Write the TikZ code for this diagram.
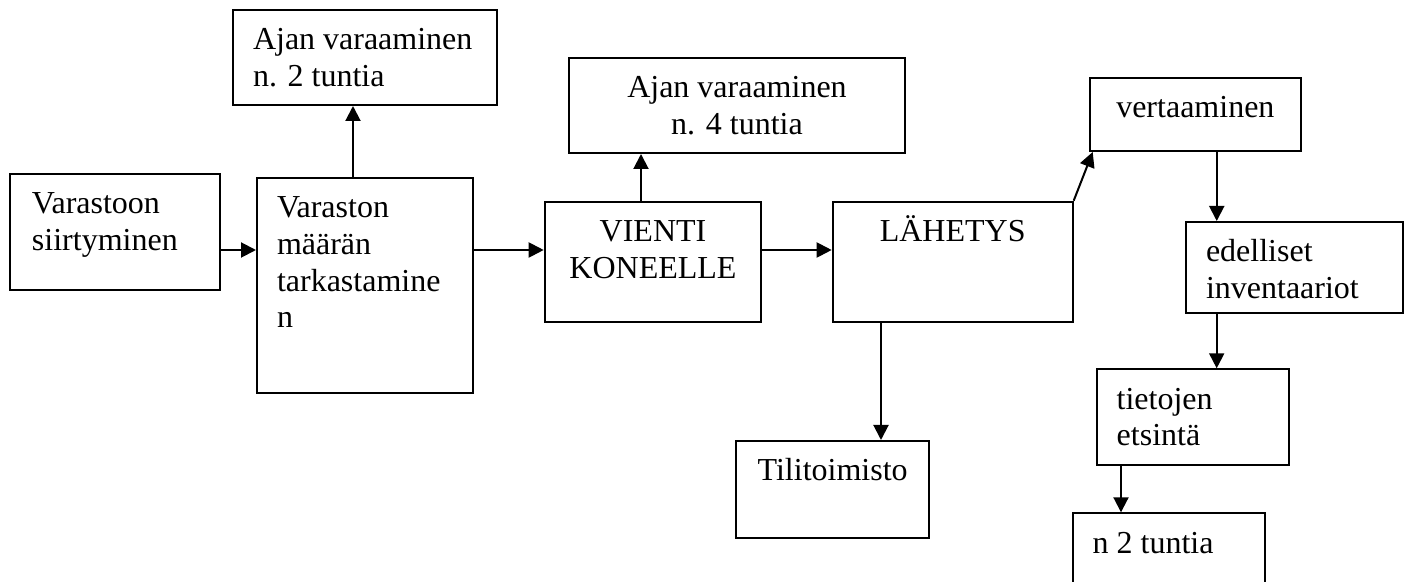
\documentclass[tikz,border=0pt]{standalone}
\usepackage{fontspec}
\setmainfont{Liberation Serif}
\usetikzlibrary{arrows.meta}
\pgfdeclarelayer{edgelayer}
\pgfdeclarelayer{nodelayer}
\pgfsetlayers{edgelayer,nodelayer,main}
\tikzstyle{block}=[draw=black,line width=1pt,inner sep=0pt,anchor=north west,font=\fontsize{16}{18.3}\selectfont]
\tikzstyle{flow}=[-{Triangle[length=7.5pt,width=7.5pt]},line width=1pt,draw=black]
\newcommand{\boxtext}[4]{\parbox[c][#2][t]{#1}{#3\rule{0pt}{20pt}#4}}
\newcommand{\txtleft}{\raggedright\leftskip=10pt\relax}
\newcommand{\txtmid}{\centering}

\begin{document}
\begin{tikzpicture}[x=0.5pt,y=-0.5pt]
	\useasboundingbox (0,0) rectangle (1410,582);
	\begin{pgfonlayer}{nodelayer}
		\node [style=block] (0) at (9,173) {\boxtext{105pt}{58pt}{\raggedright\leftskip=11pt\relax}{Varastoon\\siirtyminen}};
		\node [style=block] (1) at (256,177) {\boxtext{108pt}{107.5pt}{\txtleft}{Varaston\\määrän\\tarkastamine\\n}};
		\node [style=block] (2) at (232,9) {\boxtext{132pt}{47.5pt}{\txtleft}{Ajan varaaminen\\n. 2 tuntia}};
		\node [style=block] (3) at (543.7,200.7) {\boxtext{108.3pt}{60pt}{\txtmid}{VIENTI\\KONEELLE}};
		\node [style=block] (4) at (568,57) {\boxtext{168pt}{47.5pt}{\txtmid}{Ajan varaaminen\\n. 4 tuntia}};
		\node [style=block] (5) at (831.7,200.7) {\boxtext{120pt}{60pt}{\txtmid}{LÄHETYS}};
		\node [style=block] (6) at (735.3,440) {\boxtext{96.35pt}{48.35pt}{\txtmid}{Tilitoimisto}};
		\node [style=block] (7) at (1088.7,76.7) {\boxtext{105.65pt}{36.65pt}{\txtmid}{vertaaminen}};
		\node [style=block] (8) at (1185,221) {\boxtext{108.5pt}{45.35pt}{\txtleft}{edelliset\\inventaariot}};
		\node [style=block] (9) at (1095.7,368.3) {\boxtext{96.3pt}{48pt}{\txtleft}{tietojen\\etsintä}};
		\node [style=block] (10) at (1071.7,512.3) {\boxtext{96.15pt}{45pt}{\txtleft}{n 2 tuntia}};
	\end{pgfonlayer}
	\begin{pgfonlayer}{edgelayer}
		\draw [style=flow] ([yshift=-9pt]0.east) to ([yshift=-9pt]0.east -| 1.west);
		\draw [style=flow] ([yshift=17.75pt]1.east) to ([yshift=17.75pt]1.east -| 3.west);
		\draw [style=flow] ([yshift=5.85pt]3.east) to ([yshift=5.85pt]3.east -| 5.west);
		\draw [style=flow] ([xshift=-6pt]1.north) to ([xshift=-6pt]1.north |- 2.south);
		\draw [style=flow] ([xshift=-6pt]3.north) to ([xshift=-6pt]3.north |- 4.south);
		\draw [style=flow] (5.north east) to ([xshift=2pt]7.south west);
		\draw [style=flow] ([xshift=-35.85pt]5.south) to ([xshift=-35.85pt]5.south |- 6.north);
		\draw [style=flow] ([xshift=10.7pt]7.south) to ([xshift=10.7pt]7.south |- 8.north);
		\draw [style=flow] ([xshift=-38.9pt]8.south) to ([xshift=-38.9pt]8.south |- 9.north);
		\draw [style=flow] ([xshift=-36pt]9.south) to ([xshift=-36pt]9.south |- 10.north);
	\end{pgfonlayer}
\end{tikzpicture}
\end{document}
